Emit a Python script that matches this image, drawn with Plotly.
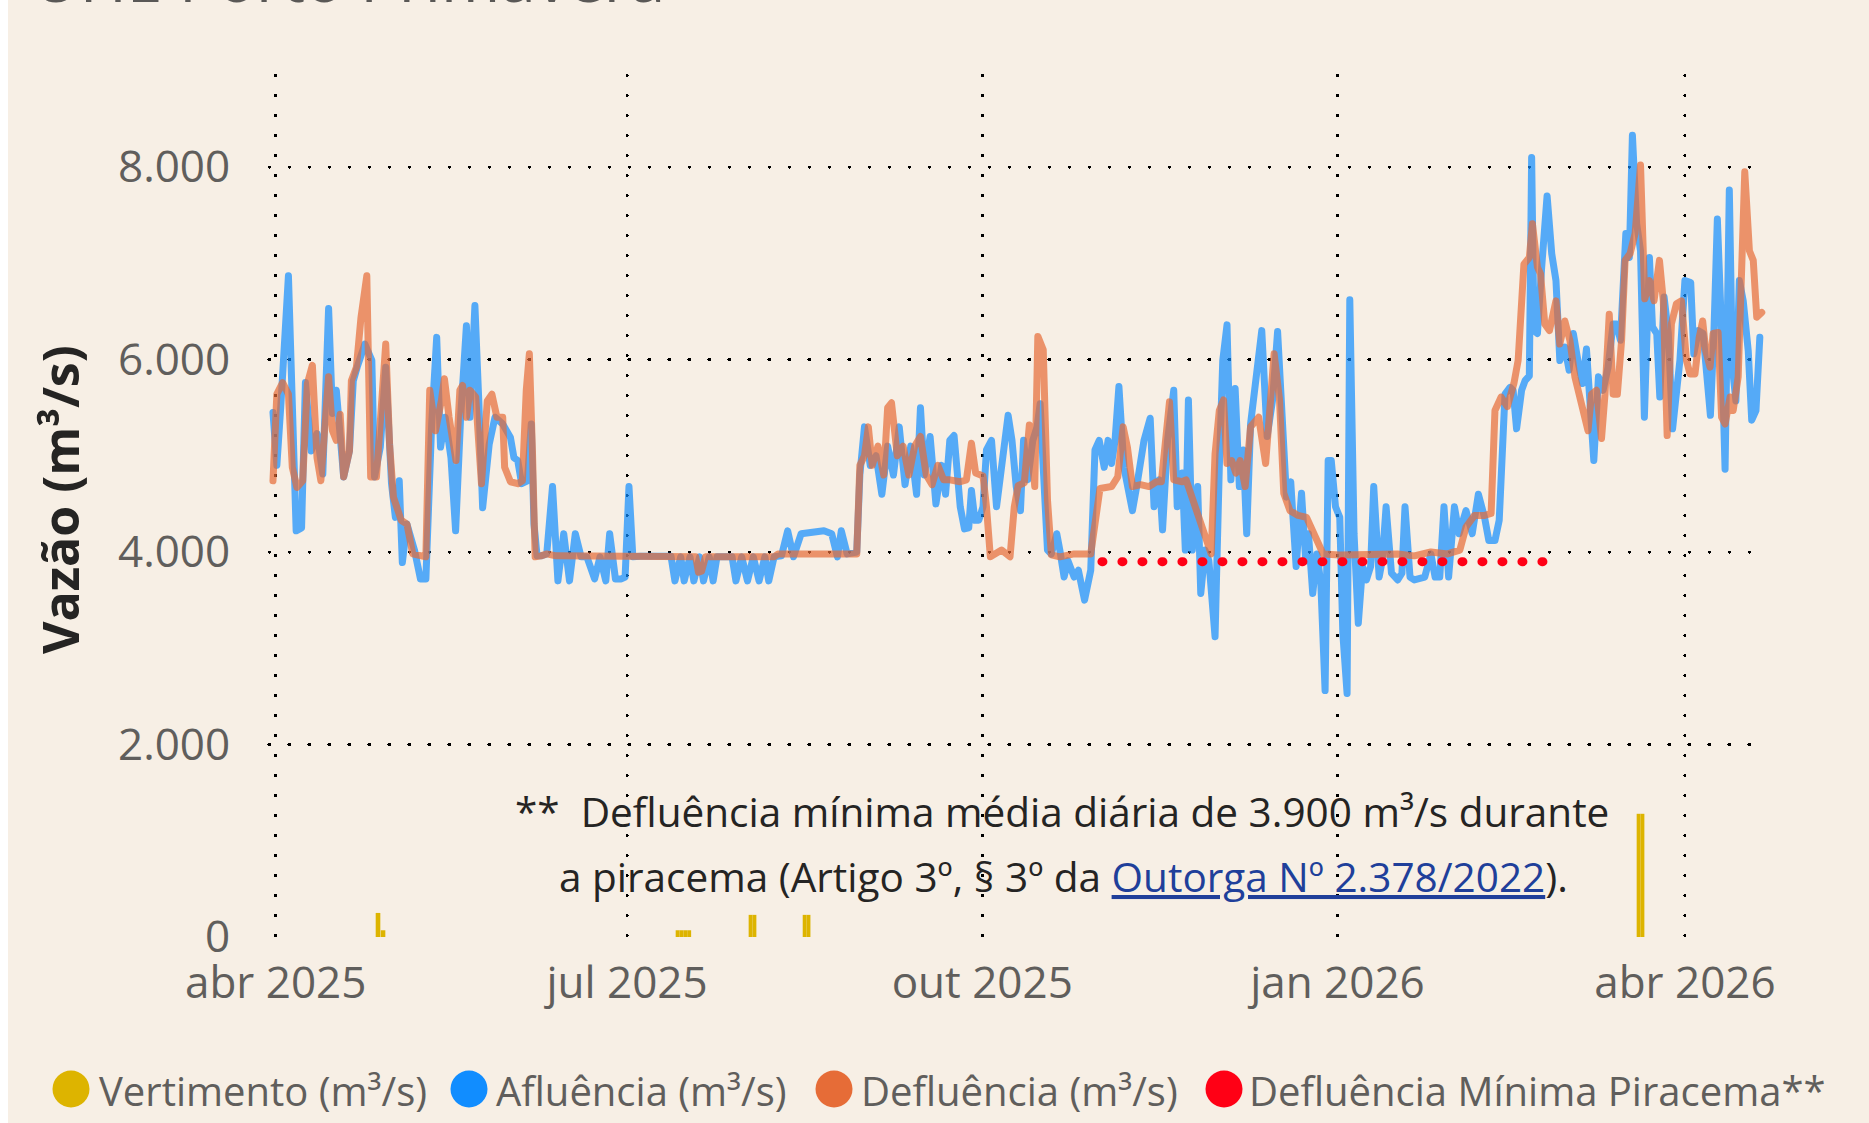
import plotly.graph_objects as go
import pandas as pd

BASE = pd.Timestamp("2025-04-01")

# ---------------- data (day offset from 2025-04-01, value m³/s) ----------------
afluencia = [
    (-0.7,5450),(0.3,4900),(1.3,5500),(3.3,6870),(5.3,4220),(6.7,4250),(7.7,5760),(9.2,5050),(10.7,5230),
    (12.2,4810),(13.7,6530),(14.7,5440),(15.7,5680),(17.6,4780),(19.1,5050),(20.1,5780),(21.1,5920),(23.1,6160),
    (24.9,5990),(25.6,4780),(27.1,5090),(28.5,5920),(30.0,4710),(31.0,4360),(32.0,4740),(32.8,3890),(34.0,4290),
    (36.0,4010),(37.5,3720),(38.9,3720),(40.4,5330),(41.7,6230),(42.7,5090),(43.9,5400),(45.4,4980),(46.6,4220),
    (47.9,5400),(49.4,6350),(50.3,5400),(51.6,6560),(52.6,5570),(53.6,4460),(55.3,5120),(56.8,5400),(58.8,5330),
    (60.8,5190),(61.7,4980),(62.7,4950),(63.7,4710),(65.2,4740),(66.2,5330),(66.9,4290),(67.7,3960),(68.7,3960),
    (70.2,3980),(71.7,4680),(73.1,3700),(74.6,4190),(76.1,3700),(77.6,4190),(79.1,3950),(80.6,3950),(82.6,3720),
    (84.0,3950),(85.5,3700),(86.5,4190),(88.0,3720),(89.5,3720),(90.5,3740),(91.5,4680),(92.5,3950),(94.4,3955),
    (102.4,3955),(103.4,3700),(104.9,3950),(105.8,3700),(107.3,3950),(108.3,3700),(109.8,3950),(110.8,3700),
    (112.3,3950),(113.3,3700),(114.3,3950),(118.2,3950),(119.2,3700),(120.7,3950),(122.2,3700),(123.7,3950),
    (125.2,3700),(126.7,3950),(127.7,3700),(129.1,3950),(131.0,3960),(132.6,4220),(134.1,3950),(136.1,4190),
    (142.0,4220),(144.0,4190),(145.5,3950),(146.5,4220),(148.0,3980),(150.5,4000),(151.3,4800),(152.5,5300),
    (154.0,4900),(155.5,5000),(157.0,4600),(158.5,5100),(160.0,4800),(161.5,5300),(163.0,4700),(164.5,5100),
    (166.0,4600),(167.0,5500),(168.0,4800),(169.5,5200),(171.0,4500),(172.5,4900),(173.5,4600),(174.6,5160),
    (175.7,5210),(177.3,4470),(178.4,4240),(179.5,4250),(180.2,4640),(181.1,4330),(182.1,4330),(183.2,4470),
    (184.1,5060),(185.4,5160),(186.7,4470),(188.0,4880),(189.7,5420),(190.7,5160),(191.8,4680),(192.9,4430),
    (193.7,5160),(194.8,4750),(196.1,5160),(197.2,5300),(198.0,5540),(198.8,4880),(199.9,4020),(200.9,3980),
    (202.3,4190),(203.1,4020),(204.2,3740),(205.2,3910),(206.8,3740),(207.9,3810),(209.5,3500),(211.1,3810),
    (212.2,5060),(213.3,5160),(214.6,4880),(215.6,5160),(216.5,4920),(217.4,5160),(218.4,5720),(219.7,4880),
    (221.9,4430),(223.0,4680),(224.9,5160),(226.5,5390),(227.5,4470),(228.9,4750),(229.7,4230),(231.0,5160),
    (232.6,5680),(233.5,4470),(234.8,4820),(235.6,4020),(236.4,5580),(237.4,4020),(238.8,4680),(239.6,3570),
    (240.7,4020),(241.7,3910),(243.3,3120),(244.4,4880),(245.3,5990),(246.4,6360),(247.4,4750),(248.5,5700),
    (249.6,4680),(250.6,5060),(251.5,4190),(252.5,5330),(254.1,5850),(255.4,6300),(256.8,5200),(258.2,5580),
    (259.5,6290),(260.5,5470),(261.8,4570),(262.9,4730),(264.3,3850),(265.7,4610),(266.8,3910),(267.5,4190),
    (268.6,3570),(269.7,3980),(270.7,3670),(271.8,2560),(272.6,4950),(273.4,4950),(274.5,4470),(275.6,4360),
    (276.4,3150),(277.5,2530),(278.2,6620),(279.3,4190),(280.4,3260),(281.5,3850),(282.5,3710),(283.6,3850),
    (284.4,4680),(285.8,3740),(286.6,3910),(287.6,4470),(289.0,3780),(290.6,3710),(291.7,3780),(292.5,4470),
    (293.8,3740),(294.9,3710),(297.6,3740),(299.2,3980),(300.3,3740),(301.5,3740),(302.6,4470),(303.8,3740),
    (305.3,4470),(306.5,4190),(308.3,4430),(309.9,4190),(311.5,4600),(313.1,4360),(314.2,4120),(315.8,4120),
    (316.9,4330),(318.4,5640),(319.7,5710),(320.5,5680),(321.4,5280),(322.7,5680),(323.6,5780),(324.7,5830),
    (325.3,8100),(325.9,6300),(326.8,6270),(327.9,6960),(329.3,7700),(330.5,7100),(331.6,6820),(332.6,5990),
    (333.9,6130),(335.0,5890),(336.1,6270),(337.4,5960),(338.5,5750),(339.5,6110),(340.4,5570),(341.4,4950),
    (342.6,5820),(343.8,5680),(345.1,5920),(346.4,6370),(347.3,6370),(348.3,6200),(349.7,7310),(350.6,7060),
    (351.4,8330),(352.5,7410),(353.5,7130),(354.5,5400),(355.8,7060),(356.6,6340),(357.7,6270),(358.5,5610),
    (359.6,6650),(360.7,6270),(361.8,5280),(362.8,5710),(363.7,5990),(365.0,6820),(366.5,6800),(367.3,6060),
    (368.5,6300),(369.7,6270),(370.8,5780),(371.6,5420),(372.5,6270),(373.4,7460),(374.2,6610),(375.4,4860),
    (376.5,7760),(377.3,5920),(378.2,5570),(379.1,6820),(380.1,6610),(381.4,6090),(382.3,5370),(383.4,5470),
    (384.4,6230),
]

defluencia = [
    (-0.7,4740),(0.3,5640),(1.8,5760),(3.3,5640),(4.3,4880),(5.5,4670),(7.0,4740),(8.2,5750),(9.5,5940),
    (10.7,4980),(11.7,4740),(12.7,5190),(13.7,5820),(14.7,5260),(15.7,5160),(16.7,5430),(17.6,4780),(19.1,5050),
    (19.6,5780),(20.9,5920),(22.1,6440),(23.6,6870),(24.6,4780),(26.1,4780),(27.6,5820),(28.5,6160),(29.5,5120),
    (30.5,4570),(32.5,4330),(34.0,4290),(35.5,3980),(38.9,3950),(39.9,5680),(41.4,5260),(42.9,5570),(43.7,5800),
    (44.9,5400),(46.7,4950),(47.7,5680),(48.4,5730),(49.4,5400),(50.3,5680),(51.8,5610),(53.3,4710),(54.8,5570),
    (56.0,5640),(57.3,5400),(58.8,5400),(59.3,4880),(60.8,4730),(62.7,4710),(63.9,4740),(64.9,5680),(65.7,6060),
    (66.5,5050),(67.2,3950),(68.7,3960),(70.2,3980),(72.6,3960),(77.6,3960),(82.6,3950),(87.5,3960),(92.5,3955),
    (97.4,3950),(102.4,3955),(108.8,3950),(109.5,3790),(110.3,3800),(111.3,3950),(117.2,3950),(122.2,3955),
    (129.1,3950),(130.1,3980),(137.0,3975),(142.0,3980),(148.0,3985),(150.5,3980),(151.3,4900),(152.5,5000),
    (153.5,5300),(154.5,4900),(156.0,5100),(157.5,4800),(158.5,5500),(159.5,5550),(161.0,5000),(162.5,5100),
    (164.0,4800),(165.5,5100),(167.0,5200),(168.5,4800),(170.0,4700),(171.5,4900),(173.0,4750),(174.6,4750),
    (177.3,4730),(178.9,4750),(180.2,5130),(181.3,4820),(183.2,4790),(184.1,4470),(185.1,3950),(188.0,4020),
    (190.2,3950),(191.3,4470),(192.3,4690),(193.9,4720),(195.2,5320),(196.6,4680),(197.4,6240),(198.8,6100),
    (199.9,4540),(200.9,3970),(203.1,3950),(206.8,3980),(211.1,3980),(213.5,4660),(216.5,4680),(218.1,4780),
    (219.5,5300),(220.6,5090),(221.9,4680),(224.0,4700),(226.2,4680),(228.1,4730),(229.4,4730),(230.7,5230),
    (231.5,5560),(232.6,4750),(234.8,4730),(235.8,4750),(238.0,4470),(240.1,4230),(242.3,3980),(243.3,5020),
    (244.4,5470),(245.5,5580),(246.4,4920),(247.6,4950),(248.7,4820),(249.8,4950),(251.1,4680),(252.5,5300),
    (254.6,5400),(256.4,4920),(257.3,5400),(258.6,6060),(260.0,5580),(261.1,4610),(262.7,4430),(264.8,4380),
    (267.0,4360),(269.1,4190),(271.3,3980),(275.6,3970),(279.9,3970),(286.3,3970),(290.6,3980),(294.9,3960),
    (299.2,4000),(303.5,3980),(306.7,4020),(308.3,4260),(310.5,4380),(313.1,4380),(314.8,4400),(315.8,5470),
    (317.4,5610),(319.0,5510),(320.7,5750),(321.8,5990),(323.3,6990),(324.7,7060),(325.5,7410),(326.8,6960),
    (327.6,6890),(328.7,6370),(329.9,6300),(331.6,6610),(332.6,6160),(333.9,6400),(335.2,6200),(336.5,5820),
    (338.2,5500),(339.9,5260),(340.8,5640),(342.1,5680),(343.4,5180),(344.3,5640),(345.4,6470),(346.4,5640),
    (347.5,5640),(348.6,6200),(349.5,7030),(350.8,7100),(352.1,7310),(353.5,8020),(354.6,6630),(355.8,6820),
    (357.0,6610),(358.4,7030),(359.4,6610),(360.4,5210),(361.5,6370),(362.8,6580),(364.1,6610),(365.4,5990),
    (366.3,5850),(367.6,5850),(368.7,6230),(369.6,6400),(370.4,6090),(371.5,5920),(372.3,6270),(373.6,6280),
    (374.5,5400),(375.4,5330),(376.7,5610),(377.5,5470),(378.8,5820),(379.7,6820),(380.5,7950),(381.7,7130),
    (382.7,7030),(383.6,6440),(384.9,6490),
]

vert_day = [26.5, 27.8, 104.1, 105.1, 106.1, 107.1, 123.0, 124.0, 137.0, 138.0, 353.0, 354.0]
vert_val = [250, 70, 70, 70, 70, 70, 230, 230, 230, 230, 1280, 1280]

pir_dates = ["2025-11-01", "2026-02-28"]
pir_val = [3900, 3900]

tick_dates = ["2025-04-01", "2025-07-01", "2025-10-01", "2026-01-01", "2026-04-01"]
tick_text = ["abr 2025", "jul 2025", "out 2025", "jan 2026", "abr 2026"]
y_ticks = [0, 2000, 4000, 6000, 8000]

legend_names = ["Vertimento (m³/s)", "Afluência (m³/s)", "Defluência (m³/s)", "Defluência Mínima Piracema**"]

# ---------------- styling ----------------
C_VERT, C_AFL, C_DEF, C_PIR = "#DDB400", "#118DFF", "#E66C37", "#FF0015"
BG = "#F7EFE5"
FONT = "Open Sans"
GREY = "#605E5C"
DARK = "#252423"

WIDTH, HEIGHT = 1869, 1123
L, R, T, B = 269, 1766, 75, 937
W, H = R - L, B - T


def PX(x):
    return (x - L) / W


def PY(y):
    return (B - y) / H


def to_dates(days):
    return [BASE + pd.Timedelta(days=d) for d in days]


afl_x = to_dates([d for d, _ in afluencia]); afl_y = [v for _, v in afluencia]
def_x = to_dates([d for d, _ in defluencia]); def_y = [v for _, v in defluencia]
DAY_MS = 86400000

fig = go.Figure()
fig.add_trace(go.Bar(x=to_dates(vert_day), y=vert_val, marker=dict(color=C_VERT, line=dict(width=0)),
                     width=[1.2 * DAY_MS] * 2 + [1.0 * DAY_MS] * (len(vert_day) - 2),
                     name=legend_names[0]))
fig.add_trace(go.Scatter(x=afl_x, y=afl_y, mode="lines", line=dict(color=C_AFL, width=7),
                         opacity=0.7, name=legend_names[1]))
fig.add_trace(go.Scatter(x=def_x, y=def_y, mode="lines", line=dict(color=C_DEF, width=7),
                         opacity=0.7, name=legend_names[2]))
fig.add_trace(go.Scatter(x=pir_dates, y=pir_val, mode="lines",
                         line=dict(color=C_PIR, width=9, dash="1px,19px"), name=legend_names[3]))

axis_common = dict(showgrid=True, gridcolor="#000000", gridwidth=3, griddash="1px,19px",
                   showline=False, zeroline=False, ticks="outside", tickcolor="rgba(0,0,0,0)",
                   tickfont=dict(family=FONT, size=44, color=GREY))

fig.update_layout(
    width=WIDTH, height=HEIGHT,
    margin=dict(l=L, r=WIDTH - R, t=T, b=HEIGHT - B, pad=0),
    paper_bgcolor=BG, plot_bgcolor=BG,
    separators=",.",
    showlegend=False,
    barmode="overlay",
    font=dict(family=FONT, color=GREY),
    xaxis=dict(type="date",
               range=[BASE - pd.Timedelta(hours=41.6), BASE + pd.Timedelta(days=386)],
               tickvals=tick_dates, ticktext=tick_text, ticklen=7, **axis_common),
    yaxis=dict(range=[0, 8956], tickvals=y_ticks, tickformat=",d", ticklen=29, **axis_common),
)

# white strip at the left edge
shapes = [dict(type="rect", xref="paper", yref="paper", x0=PX(-5), x1=PX(8), y0=PY(1130), y1=PY(-5),
               fillcolor="#FFFFFF", line=dict(width=0), layer="below")]

# legend markers + texts
leg_cx = [71, 469, 834, 1224]
leg_tx = [97, 494, 859, 1247]
leg_cols = [C_VERT, C_AFL, C_DEF, C_PIR]
LEG_Y = 1089
RAD = 18.5
annotations = []
for cx, tx, col, name in zip(leg_cx, leg_tx, leg_cols, legend_names):
    shapes.append(dict(type="circle", xref="paper", yref="paper",
                       x0=PX(cx - RAD), x1=PX(cx + RAD), y0=PY(LEG_Y + RAD), y1=PY(LEG_Y - RAD),
                       fillcolor=col, line=dict(width=0)))
    annotations.append(dict(text=name, xref="paper", yref="paper", x=PX(tx), y=PY(LEG_Y + 1),
                            xanchor="left", yanchor="middle", showarrow=False,
                            font=dict(family=FONT, size=40, color=GREY)))

# title (cut off at the top of the view)
annotations.append(dict(text="UHE Porto Primavera", xref="paper", yref="paper", x=PX(31), y=PY(23),
                        xanchor="left", yanchor="bottom", showarrow=False,
                        font=dict(family=FONT, size=64, color="#5A5856")))

# y-axis title
annotations.append(dict(text="Vazão (m³/s)", xref="paper", yref="paper", x=PX(60), y=PY(500),
                        xanchor="center", yanchor="middle", textangle=-90, showarrow=False,
                        font=dict(family=FONT, size=50, color=DARK, weight="bold")))

# note
annotations.append(dict(text="**  Defluência mínima média diária de 3.900 m³/s durante",
                        xref="paper", yref="paper", x=PX(1062), y=PY(811),
                        xanchor="center", yanchor="middle", showarrow=False,
                        font=dict(family=FONT, size=40.5, color=DARK)))
annotations.append(dict(text="a piracema (Artigo 3º, § 3º da "
                             "<span style='color:#203F9A'><u>Outorga Nº 2.378/2022</u></span>).",
                        xref="paper", yref="paper", x=PX(1063), y=PY(876),
                        xanchor="center", yanchor="middle", showarrow=False,
                        font=dict(family=FONT, size=40.5, color=DARK)))

fig.update_layout(shapes=shapes, annotations=annotations)

post = """
document.body.style.margin = '0';
var gd = document.getElementById('{plot_id}');
function fixCaps(){
  gd.querySelectorAll('.gridlayer path').forEach(function(p){ p.style.strokeLinecap = 'round'; });
  gd.querySelectorAll('.scatterlayer path.js-line').forEach(function(p){
    p.style.strokeLinecap = 'round'; p.style.strokeLinejoin = 'round'; });
}
fixCaps();
if (gd.on) { gd.on('plotly_afterplot', fixCaps); }
"""

fig.write_html("out.html", post_script=post, config={"displayModeBar": False})
